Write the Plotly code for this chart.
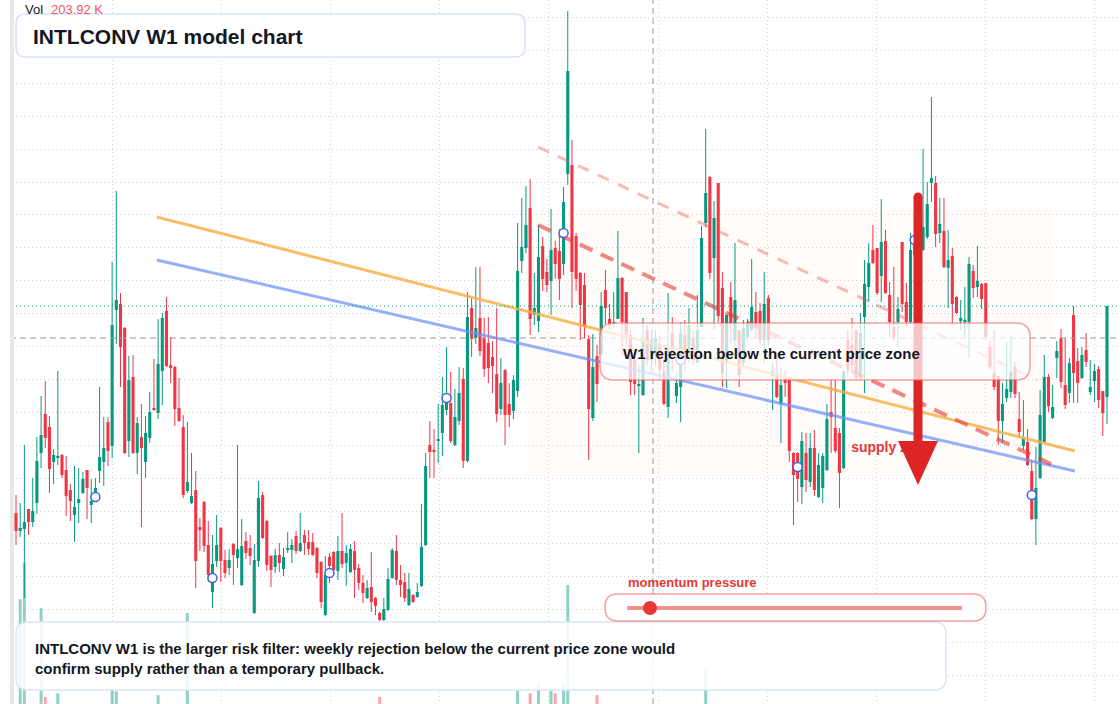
import plotly.graph_objects as go

# ---------------- data (weekly bars, price units) ----------------
opens = [191,173,175,195,182,201,251,290,277,242,246,249,234,214,189,201,211,234,199,212,
         233,242,282,258,394,400,376,263,327,251,267,242,266,296,291,333,393,339,337,296,
         277,213,201,214,177,202,159,112,143,176,144,136,160,146,119,163,156,91,143,209,
         183,148,137,149,135,154,154,168,153,169,162,162,156,142,89,147,152,133,153,141,
         132,153,136,121,106,117,106,91,84,94,126,153,124,122,99,109,107,118,159,259,
         253,263,271,294,301,259,283,325,243,396,366,386,366,361,347,330,295,334,300,293,
         313,443,456,496,389,383,458,432,423,456,453,440,530,539,468,431,419,365,286,348,
         350,414,385,380,385,426,412,369,344,318,309,374,344,349,359,333,297,371,308,317,
         369,354,366,341,377,481,527,446,521,416,342,407,364,374,341,367,374,392,393,364,
         406,328,331,300,325,325,251,251,217,251,222,256,207,216,234,292,276,271,236,364,
         359,374,326,387,417,454,456,428,463,409,377,382,462,402,382,449,474,454,467,521,
         521,471,473,436,448,407,383,382,382,433,417,420,421,357,331,328,283,306,312,337,
         285,258,262,233,185,226,262,327,286,346,366,319,311,389,343,326,354,312,323,335,
         313,307]
highs = [209,201,259,195,226,267,308,323,288,255,333,250,248,220,238,236,232,234,225,226,
         317,287,287,442,513,411,377,348,349,287,300,288,312,345,385,391,407,367,338,326,
         289,282,251,233,186,203,183,169,189,177,154,155,161,259,185,172,169,160,223,212,
         184,149,155,161,156,172,165,173,191,174,174,171,157,143,148,151,153,168,191,159,
         160,163,140,129,124,152,107,92,106,136,156,169,139,131,131,110,121,200,251,283,
         275,300,327,357,332,315,337,336,412,406,437,437,386,387,363,396,346,335,321,329,
         481,506,518,525,431,479,467,445,495,463,475,517,693,564,471,432,431,369,370,359,
         412,434,400,412,473,427,412,374,354,340,386,379,374,374,369,344,411,387,331,382,
         384,396,374,409,478,575,528,503,521,432,389,422,461,374,384,385,445,412,401,432,
         409,341,351,337,334,326,252,252,272,271,271,274,251,251,300,324,324,276,333,374,
         386,374,391,444,461,479,456,505,474,422,437,407,462,421,471,479,489,555,522,607,
         528,506,506,474,456,408,404,417,447,439,458,421,421,364,374,328,321,362,368,342,
         312,304,275,244,257,314,349,330,319,363,375,366,346,398,356,357,371,344,340,338,
         313,398]
lows = [159,167,106,169,177,190,236,256,211,220,239,226,188,183,162,181,210,185,181,209,
        221,218,238,246,360,317,250,247,250,230,177,226,261,293,285,299,337,321,278,282,
        206,211,200,116,153,152,122,96,137,122,126,129,119,136,118,145,139,90,137,165,
        133,117,131,132,128,151,141,150,152,149,149,148,126,96,88,121,133,124,136,118,
        131,106,114,101,105,92,89,83,83,93,125,119,107,102,98,101,106,117,158,226,
        226,241,248,289,261,258,279,236,242,347,360,348,327,321,311,282,289,259,277,285,
        307,431,451,369,379,372,413,412,389,425,404,429,519,396,413,364,366,244,283,302,
        348,380,374,376,385,348,359,309,309,251,308,339,332,339,324,299,286,332,301,282,
        332,341,339,341,377,477,425,374,382,317,316,362,356,317,338,365,373,366,359,341,
        359,294,306,261,307,242,179,202,200,212,217,208,206,201,233,251,251,196,235,329,
        334,324,324,311,402,440,409,402,410,367,364,357,392,377,381,444,442,453,465,502,
        457,461,436,396,379,390,374,367,346,406,407,395,364,334,314,259,261,302,306,306,
        266,254,238,184,159,225,261,292,285,326,316,295,301,301,301,325,337,309,302,296,
        268,280]
closes = [173,176,182,182,193,243,269,266,235,249,248,229,208,203,197,205,225,216,203,216,
          247,256,253,379,404,357,251,324,251,281,256,271,292,294,340,386,338,336,295,283,
          209,222,208,143,174,158,129,140,159,143,131,144,149,155,158,151,148,144,206,166,
          139,134,149,141,147,155,159,153,161,161,155,149,131,102,129,138,134,153,140,151,
          155,134,121,111,116,102,98,84,95,125,154,124,119,106,115,102,112,157,238,252,
          252,265,299,304,263,287,311,243,387,365,376,353,335,336,338,290,321,289,289,324,
          433,457,479,385,396,447,425,419,454,440,425,502,633,432,425,399,377,295,337,320,
          398,396,378,382,426,382,369,322,320,320,364,344,364,366,334,300,354,352,321,371,
          344,379,344,374,466,511,431,486,388,331,389,381,404,329,376,380,397,377,364,400,
          364,333,307,319,321,253,229,225,263,224,256,214,239,248,285,287,253,231,333,334,
          339,326,371,420,441,441,411,462,411,382,367,395,400,382,454,464,454,477,500,526,
          470,480,437,444,400,391,386,384,440,416,423,405,367,337,317,283,300,315,332,310,
          272,265,239,185,216,289,327,298,297,353,322,299,341,331,321,349,342,317,333,304,
          291,398]
# volume in thousands
volumes = [150,800,1000,90,60,110,750,260,80,50,
           280,60,70,50,60,45,40,55,40,35,
           70,60,80,300,290,90,80,70,75,60,
           85,60,55,50,270,70,65,45,60,50,
           80,724,60,90,40,55,70,60,45,55,
           40,35,45,60,70,40,35,65,75,55,
           50,45,35,40,35,30,30,40,35,30,
           30,35,45,60,70,40,35,40,50,35,
           40,55,40,45,35,60,50,260,60,70,
           55,50,40,45,40,30,35,80,110,60,
           45,50,60,55,60,45,50,75,95,70,
           60,70,55,50,45,60,50,55,45,50,
           300,90,80,280,70,340,60,70,310,280,
           80,330,878,200,90,80,70,110,80,270,
           75,70,55,50,70,65,55,60,50,65,
           60,50,45,45,50,55,70,50,40,55,
           45,50,40,55,120,420,180,110,140,100,
           70,60,65,55,50,40,55,50,45,55,
           50,45,50,55,40,90,100,70,80,60,
           55,60,50,55,80,60,55,70,110,50,
           45,50,55,80,70,60,55,70,65,55,
           50,45,60,50,70,60,55,80,75,150,
           110,60,70,55,65,40,35,45,60,45,
           40,50,45,40,50,60,45,40,45,40,
           55,40,60,90,120,100,90,60,45,55,
           60,50,45,70,55,45,40,35,40,50,
           60,203.92]

marker_idx = [19, 47, 75, 103, 131, 159, 187, 215, 243]
marker_price = [207, 126, 131, 306, 471, 344, 237, 464, 209]

# drawn lines: [start index, end index], [start price, end price]
orange_x, orange_y = [33.7, 253.3], [487, 253]
blue_x, blue_y = [33.7, 253.3], [444, 233]
resist_light_x, resist_light_y = [124.9, 244.3], [557, 324]
resist_dark_x, resist_dark_y = [124.9, 248.1], [479, 239]
zone_x, zone_y = [122.0, 247.8], [227, 497]
crosshair_idx, crosshair_price = 152.4, 366
supply_label_x, supply_label_y = [199.8], [256]

title = "INTLCONV W1 model chart"
box_label = "W1 rejection below the current price zone"
note = ("INTLCONV W1 is the larger risk filter: weekly rejection below the current price zone would"
        "<br>confirm supply rather than a temporary pullback.")
vol_label = "203.92 K"

# ---------------- styling ----------------
W, H = 1120, 704
UP, DN = "#089981", "#f23645"
FONT = "Liberation Sans, Arial, sans-serif"
DARK = "#131722"
GRID = "#cfd3da"

def px(x):
    return x / W

def py(y):
    return 1 - y / H

def rrect(x0, y0, x1, y1, r):
    return (f"M {px(x0 + r)},{py(y0)} L {px(x1 - r)},{py(y0)} Q {px(x1)},{py(y0)} {px(x1)},{py(y0 + r)} "
            f"L {px(x1)},{py(y1 - r)} Q {px(x1)},{py(y1)} {px(x1 - r)},{py(y1)} "
            f"L {px(x0 + r)},{py(y1)} Q {px(x0)},{py(y1)} {px(x0)},{py(y1 - r)} "
            f"L {px(x0)},{py(y0 + r)} Q {px(x0)},{py(y0)} {px(x0 + r)},{py(y0)} Z")

n = len(opens)
idx = list(range(n))
up = [c >= o for o, c in zip(opens, closes)]

fig = go.Figure()

# volume (pane baseline lies just below the visible area)
fig.add_trace(go.Bar(
    x=idx, y=volumes, yaxis="y2", width=0.72,
    marker=dict(color=["rgba(8,153,129,0.45)" if u else "rgba(242,54,69,0.45)" for u in up],
                line=dict(width=0)),
    hoverinfo="skip", showlegend=False))

# wicks
for flag, col in ((True, UP), (False, DN)):
    xs, ys = [], []
    for i in idx:
        if up[i] == flag:
            xs += [i, i, None]
            ys += [lows[i], highs[i], None]
    fig.add_trace(go.Scatter(x=xs, y=ys, mode="lines", line=dict(color=col, width=1),
                             hoverinfo="skip", showlegend=False))

# bodies
fig.add_trace(go.Bar(
    x=idx,
    y=[max(abs(c - o), 1.2) for o, c in zip(opens, closes)],
    base=[min(o, c) for o, c in zip(opens, closes)],
    width=0.74,
    marker=dict(color=[UP if u else DN for u in up], line=dict(width=0)),
    hoverinfo="skip", showlegend=False))

# trend lines
fig.add_trace(go.Scatter(x=orange_x, y=orange_y, mode="lines",
                         line=dict(color="rgba(246,176,70,0.82)", width=3), showlegend=False))
fig.add_trace(go.Scatter(x=blue_x, y=blue_y, mode="lines",
                         line=dict(color="rgba(110,145,245,0.72)", width=3), showlegend=False))
fig.add_trace(go.Scatter(x=resist_light_x, y=resist_light_y, mode="lines",
                         line=dict(color="rgba(239,83,80,0.4)", width=3, dash="12px,10px"),
                         showlegend=False))
fig.add_trace(go.Scatter(x=resist_dark_x, y=resist_dark_y, mode="lines",
                         line=dict(color="rgba(229,57,53,0.6)", width=4, dash="14px,9px"),
                         showlegend=False))

# markers
fig.add_trace(go.Scatter(x=marker_idx, y=marker_price, mode="markers",
                         marker=dict(symbol="circle", size=9, color="white",
                                     line=dict(color="#3f63f0", width=1.5)),
                         showlegend=False))

# supply zone label (under the arrow)
fig.add_trace(go.Scatter(x=supply_label_x, y=supply_label_y, mode="text", text=["supply zone"],
                         textposition="middle right",
                         textfont=dict(family=FONT, size=14, color="#e53935", weight="bold"),
                         showlegend=False))

shapes = []
shapes.append(dict(type="rect", xref="x", yref="y", x0=zone_x[0], x1=zone_x[1], y0=zone_y[0], y1=zone_y[1],
                   fillcolor="rgba(245,150,60,0.028)", line=dict(width=0), layer="below"))
shapes.append(dict(type="line", xref="paper", yref="y", x0=0, x1=1, y0=closes[-1], y1=closes[-1],
                   line=dict(color=UP, width=1, dash="1px,3px"), layer="above"))
shapes.append(dict(type="line", xref="paper", yref="y", x0=0, x1=1, y0=crosshair_price, y1=crosshair_price,
                   line=dict(color="#9598a1", width=1, dash="6px,4px"), layer="above"))
shapes.append(dict(type="line", xref="x", yref="paper", x0=crosshair_idx, x1=crosshair_idx, y0=0, y1=1,
                   line=dict(color="#9598a1", width=1, dash="6px,4px"), layer="above"))
# arrow
shapes.append(dict(type="line", xref="paper", yref="paper", x0=px(918), x1=px(918), y0=py(197), y1=py(446),
                   line=dict(color="#dc2626", width=9), layer="above"))
shapes.append(dict(type="circle", xref="paper", yref="paper", x0=px(913.5), x1=px(922.5), y0=py(192.5), y1=py(201.5),
                   fillcolor="#dc2626", line=dict(width=0), layer="above"))
shapes.append(dict(type="path", xref="paper", yref="paper",
                   path=f"M {px(898)},{py(441)} L {px(938)},{py(441)} L {px(918)},{py(485)} Z",
                   fillcolor="#dc2626", line=dict(width=0), layer="above"))
# W1 box
shapes.append(dict(type="path", xref="paper", yref="paper", path=rrect(600, 323, 1030, 380, 14),
                   fillcolor="rgba(255,255,255,0.74)", line=dict(color="rgba(239,83,80,0.55)", width=1.5),
                   layer="above"))
# title box
shapes.append(dict(type="path", xref="paper", yref="paper", path=rrect(16, 14, 525, 57, 10),
                   fillcolor="white", line=dict(color="#d6e3f8", width=1.5), layer="above"))
# bottom note box
shapes.append(dict(type="path", xref="paper", yref="paper", path=rrect(16, 622, 946, 690, 12),
                   fillcolor="rgba(255,255,255,0.86)", line=dict(color="#dbe6f9", width=1.5), layer="above"))
# momentum pill
shapes.append(dict(type="path", xref="paper", yref="paper", path=rrect(605, 594, 986, 621, 13),
                   fillcolor="white", line=dict(color="rgba(239,83,80,0.55)", width=1.5), layer="above"))
shapes.append(dict(type="line", xref="paper", yref="paper", x0=px(627), x1=px(962), y0=py(608), y1=py(608),
                   line=dict(color="rgba(229,57,53,0.55)", width=4), layer="above"))
shapes.append(dict(type="circle", xref="paper", yref="paper", x0=px(643), x1=px(657), y0=py(601), y1=py(615),
                   fillcolor="#e53935", line=dict(width=0), layer="above"))
# left edge strip
shapes.append(dict(type="rect", xref="paper", yref="paper", x0=0, x1=px(10), y0=0, y1=1,
                   fillcolor="white", line=dict(width=0), layer="above"))
shapes.append(dict(type="rect", xref="paper", yref="paper", x0=px(10), x1=px(14), y0=0, y1=1,
                   fillcolor="#e6e8ec", line=dict(width=0), layer="above"))

annotations = [
    dict(x=px(23), y=py(9), xref="paper", yref="paper", text="Vol", showarrow=False,
         xanchor="left", yanchor="middle", font=dict(family=FONT, size=13, color=DARK)),
    dict(x=px(49), y=py(9), xref="paper", yref="paper", text=vol_label, showarrow=False,
         xanchor="left", yanchor="middle", font=dict(family=FONT, size=13, color="#f7525f")),
    dict(x=px(31), y=py(36), xref="paper", yref="paper", text=f"<b>{title}</b>", showarrow=False,
         xanchor="left", yanchor="middle", font=dict(family=FONT, size=21, color=DARK)),
    dict(x=px(621), y=py(353), xref="paper", yref="paper", text=f"<b>{box_label}</b>", showarrow=False,
         xanchor="left", yanchor="middle", font=dict(family=FONT, size=15, color=DARK)),
    dict(x=px(33), y=py(658), xref="paper", yref="paper", text=f"<b>{note}</b>", showarrow=False,
         xanchor="left", yanchor="middle", align="left", font=dict(family=FONT, size=15, color=DARK)),
    dict(x=px(626), y=py(582), xref="paper", yref="paper", text="<b>momentum pressure</b>", showarrow=False,
         xanchor="left", yanchor="middle", font=dict(family=FONT, size=13, color="#e53935")),
]

xr0 = -16 / 4.18
fig.update_layout(
    width=W, height=H, autosize=False,
    margin=dict(l=0, r=0, t=0, b=0),
    paper_bgcolor="white", plot_bgcolor="white",
    barmode="overlay", showlegend=False, hovermode=False,
    shapes=shapes, annotations=annotations,
    xaxis=dict(range=[xr0, xr0 + W / 4.18], showgrid=True, gridcolor=GRID, griddash="1px,3px",
               tick0=23.1, dtick=26.1, showticklabels=False, zeroline=False, showline=False, ticks=""),
    yaxis=dict(range=[0, H], showgrid=True, gridcolor=GRID, griddash="1px,3px",
               tick0=28.5, dtick=32.9, showticklabels=False, zeroline=False, showline=False, ticks=""),
    yaxis2=dict(range=[221, 4111], overlaying="y", visible=False, showgrid=False),
)

fig.write_html("out.html")
